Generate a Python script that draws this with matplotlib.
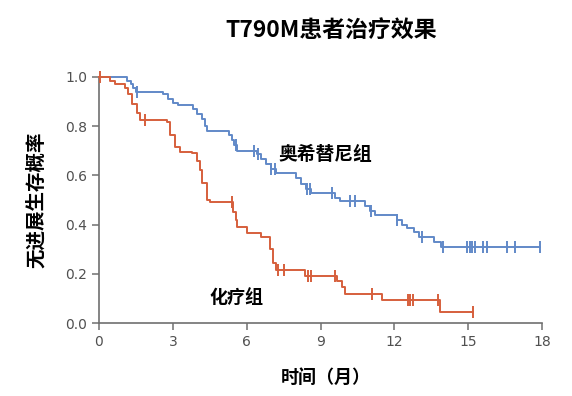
import numpy as np
import matplotlib
matplotlib.use("Agg")
import matplotlib.pyplot as plt

# Kaplan-Meier steps (months, survival after the drop)
osi_times = [1.15, 1.3, 1.4, 1.5, 2.6, 2.8, 3.0, 3.2, 3.8, 4.0, 4.2, 4.3, 4.4,
             5.3, 5.4, 5.5, 5.6, 6.4, 6.6, 6.8, 7.0, 7.2, 8.0, 8.2, 8.4, 8.6,
             9.6, 9.8, 10.8, 11.0, 11.2, 12.1, 12.3, 12.5, 12.8, 13.0, 13.6, 13.9]
osi_surv = [0.985, 0.97, 0.955, 0.94, 0.93, 0.91, 0.895, 0.885, 0.87, 0.85, 0.83, 0.80, 0.78,
            0.765, 0.745, 0.725, 0.70, 0.685, 0.665, 0.645, 0.625, 0.61, 0.59, 0.565, 0.545, 0.53,
            0.51, 0.495, 0.475, 0.455, 0.44, 0.42, 0.40, 0.385, 0.37, 0.35, 0.33, 0.31]
osi_end = 17.9
osi_censor = [1.55, 5.55, 6.3, 6.45, 7.0, 7.15, 8.45, 8.55, 9.45, 10.2, 10.4, 11.05,
              12.1, 13.1, 13.95, 14.95, 15.05, 15.15, 15.25, 15.6, 15.75, 16.55, 16.9, 17.9]

chemo_times = [0.45, 0.65, 1.05, 1.18, 1.34, 1.54, 1.67, 2.76, 2.88, 3.09, 3.29, 3.78, 3.98,
               4.1, 4.2, 4.4, 4.5, 5.45, 5.55, 5.6, 6.0, 6.6, 6.95, 7.07, 7.2, 8.35,
               9.67, 9.87, 10.0, 11.5, 13.85]
chemo_surv = [0.985, 0.97, 0.955, 0.93, 0.89, 0.855, 0.825, 0.815, 0.765, 0.715, 0.695, 0.69, 0.66,
              0.62, 0.57, 0.50, 0.49, 0.45, 0.42, 0.39, 0.365, 0.35, 0.30, 0.245, 0.215, 0.19,
              0.17, 0.147, 0.12, 0.095, 0.045]
chemo_end = 15.2
chemo_censor = [0.05, 1.87, 5.4, 7.25, 7.5, 8.5, 8.6, 9.6, 11.1, 12.55, 12.65, 12.75, 13.75, 15.2]

x_ticks = [0, 3, 6, 9, 12, 15, 18]
y_ticks = [0.0, 0.2, 0.4, 0.6, 0.8, 1.0]

blue = "#6189c8"
red = "#d65f3c"
cjk = ["Noto Sans CJK SC", "DejaVu Sans"]


def km_line(times, surv, end):
    t = np.concatenate([[0], times, [end]])
    s = np.concatenate([[1.0], surv, [surv[-1]]])
    return t, s


def censor_y(times, surv, ct):
    t = np.concatenate([[0], times])
    s = np.concatenate([[1.0], surv])
    idx = np.searchsorted(t, ct, side="right") - 1
    return s[idx]


fig = plt.figure(figsize=(5.72, 3.96), dpi=100)
ax = fig.add_axes([0.173, 0.184, 0.775, 0.622])

for times, surv, end, cens, col in [(osi_times, osi_surv, osi_end, osi_censor, blue),
                                    (chemo_times, chemo_surv, chemo_end, chemo_censor, red)]:
    t, s = km_line(times, surv, end)
    ax.step(t, s, where="post", color=col, lw=1.4, clip_on=False, zorder=3)
    ax.plot(cens, censor_y(times, surv, np.array(cens)), ls="none", marker="|",
            ms=8, mew=1.4, color=col, clip_on=False, zorder=4)

ax.set_xlim(0, 18)
ax.set_ylim(0, 1.0)
ax.set_xticks(x_ticks)
ax.set_xticklabels([str(v) for v in x_ticks])
ax.set_yticks(y_ticks)
ax.set_yticklabels(["%.1f" % v for v in y_ticks])
for side in ["top", "right"]:
    ax.spines[side].set_visible(False)
for side in ["left", "bottom"]:
    ax.spines[side].set_color("#707070")
    ax.spines[side].set_linewidth(1.2)
ax.tick_params(direction="out", length=5, width=1.1, color="#707070",
               labelsize=10, labelcolor="#505050")

ax.set_xlabel("时间（月）", family=cjk, fontsize=13, fontweight="bold", labelpad=14)
ax.xaxis.set_label_coords(0.512, -0.18)
ax.set_ylabel("无进展生存概率", family=cjk, fontsize=14, fontweight="bold", labelpad=14)

ax.text(9.2, 0.683, "奥希替尼组", family=cjk, fontsize=13.5, fontweight="bold",
        ha="center", va="center")
ax.text(5.57, 0.106, "化疗组", family=cjk, fontsize=13, fontweight="bold",
        ha="center", va="center")

fig.text(0.579, 0.922, "T790M患者治疗效果", family=cjk, fontsize=16.5, fontweight="bold",
         ha="center", va="center")

fig.savefig("out.png", dpi=100)
